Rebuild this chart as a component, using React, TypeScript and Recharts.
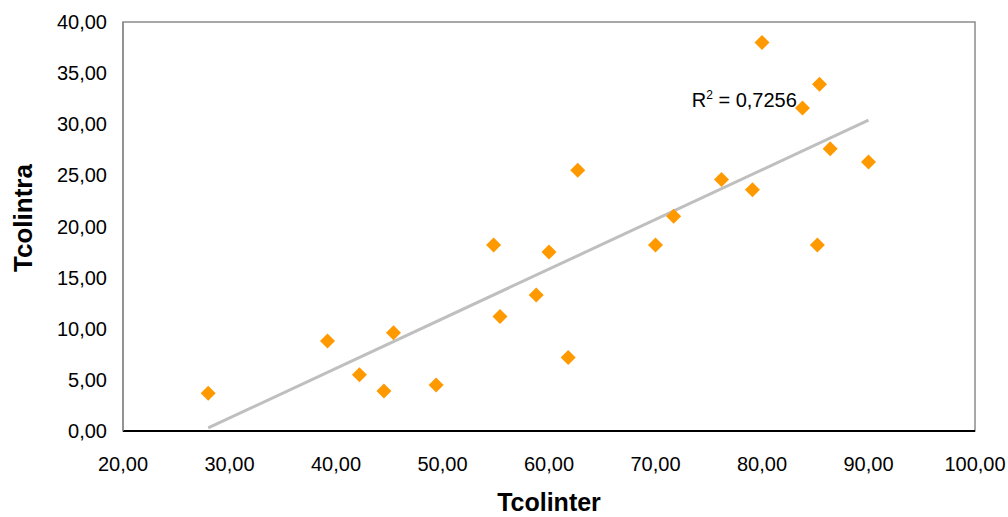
import { ScatterChart, Scatter, XAxis, YAxis, ReferenceArea, ReferenceLine, ReferenceDot } from 'recharts'

// Tcolinter (x) / Tcolintra (y) pairs
const tcolinter = [28.0, 39.2, 42.2, 44.5, 45.4, 49.4, 54.8, 55.4, 58.8, 60.0, 61.8, 62.7, 70.0, 71.7, 76.2, 79.1, 80.0, 83.8, 85.2, 85.4, 86.4, 90.0]
const tcolintra = [3.7, 8.8, 5.5, 3.9, 9.6, 4.5, 18.2, 11.2, 13.3, 17.5, 7.2, 25.5, 18.2, 21.0, 24.6, 23.6, 38.0, 31.6, 18.2, 33.9, 27.6, 26.3]

// linear trendline end points as shown
const trendX = [28.0, 90.0]
const trendY = [0.3, 30.4]

const xTicks = [20, 30, 40, 50, 60, 70, 80, 90, 100]
const yTicks = [0, 5, 10, 15, 20, 25, 30, 35, 40]

const rSquared = '0,7256'

const points = tcolinter.map((x, i) => ({ x, y: tcolintra[i] }))

const fmt = (v: number) => v.toFixed(2).replace('.', ',')
const font = 'Liberation Sans, Arial, sans-serif'

const Diamond = (props: any) => {
  const { cx, cy } = props
  const r = 7.5
  return <polygon points={`${cx},${cy - r} ${cx + r},${cy} ${cx},${cy + r} ${cx - r},${cy}`} fill="#ff9900" />
}

const XTitle = ({ viewBox }: any) => (
  <text x={viewBox.x + viewBox.width / 2} y={viewBox.y + 80} textAnchor="middle" fontFamily={font} fontWeight="bold" fontSize={25} fill="#000">
    Tcolinter
  </text>
)

const YTitle = () => {
  const cx = 32
  const cy = 218
  return (
    <text x={cx} y={cy} transform={`rotate(-90 ${cx} ${cy})`} textAnchor="middle" fontFamily={font} fontWeight="bold" fontSize={26} fill="#000">
      Tcolintra
    </text>
  )
}

const R2Label = (props: any) => (
  <text x={props.cx} y={props.cy} fontFamily={font} fontSize={20} fill="#000">
    R<tspan dy={-8} fontSize={12}>2</tspan>
    <tspan dy={8}> = {rSquared}</tspan>
  </text>
)

export default function App() {
  return (
    <div style={{ position: 'absolute', left: 0, top: 0, background: '#fff' }}>
      <ScatterChart width={1008} height={517} margin={{ top: 22, right: 33, left: 0, bottom: 0 }}>
        <ReferenceArea x1={20} x2={100} y1={0} y2={40} fill="none" stroke="#8c8c8c" strokeWidth={1.5} ifOverflow="visible" />
        <XAxis
          type="number"
          dataKey="x"
          domain={[20, 100]}
          ticks={xTicks}
          tickFormatter={fmt}
          tickLine={false}
          tickMargin={20}
          height={86}
          axisLine={{ stroke: '#000', strokeWidth: 2 }}
          tick={{ fill: '#000', fontSize: 20, fontFamily: font }}
          label={<XTitle />}
        />
        <YAxis
          type="number"
          dataKey="y"
          domain={[0, 40]}
          ticks={yTicks}
          tickFormatter={fmt}
          tickLine={false}
          tickMargin={10}
          width={123}
          axisLine={{ stroke: '#8c8c8c', strokeWidth: 1.5 }}
          tick={{ fill: '#000', fontSize: 20, fontFamily: font }}
          label={<YTitle />}
        />
        <Scatter data={points} shape={<Diamond />} isAnimationActive={false} />
        <ReferenceLine
          segment={[
            { x: trendX[0], y: trendY[0] },
            { x: trendX[1], y: trendY[1] },
          ]}
          stroke="#bfbfbf"
          strokeWidth={3}
        />
        <ReferenceDot x={73.4} y={31.7} r={0} shape={<R2Label />} />
      </ScatterChart>
    </div>
  )
}
